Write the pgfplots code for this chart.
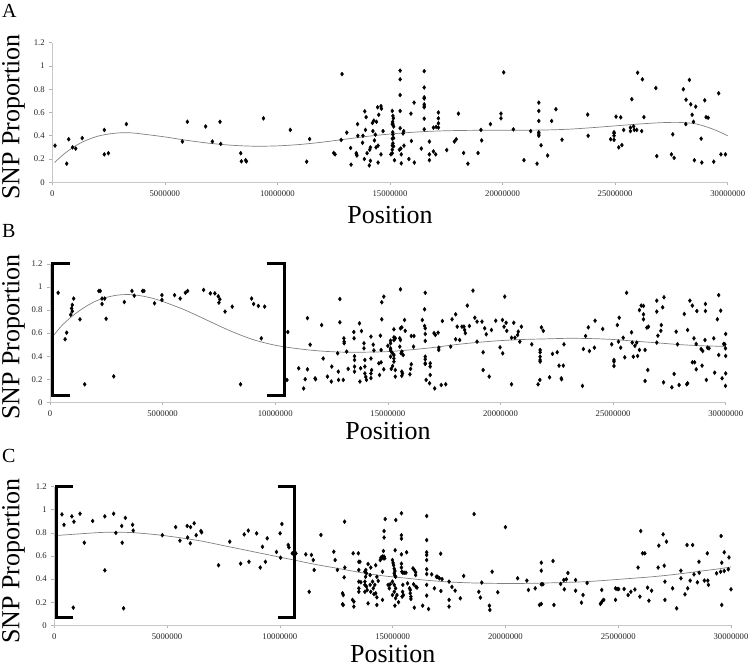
\documentclass[border=0pt]{standalone}
\usepackage{fontspec}
\setmainfont{Liberation Serif}
\usepackage{pgfplots}
\pgfplotsset{compat=1.18}
\pgfplotsset{snp/.style={
  scale only axis, anchor=south west, clip=false,
  xmin=0, xmax=30, ymin=0, ymax=1.2,
  axis x line=bottom, axis y line=left,
  axis line style={-, draw=black!22, line width=0.8pt},
  tick style={draw=black!30, line width=0.6pt},
  tick align=outside, major tick length=3pt,
  xtick={0,5,10,15,20,25,30},
  xticklabels={0,5000000,10000000,15000000,20000000,25000000,30000000},
  ytick={0,0.2,0.4,0.6,0.8,1,1.2},
  yticklabels={0,0.2,0.4,0.6,0.8,1,1.2},
  /pgf/number format/assume math mode=true,
  ticklabel style={font=\fontsize{8.7}{9}\selectfont, text=black!85},
  xticklabel style={anchor=north, yshift=-2pt},
  yticklabel style={anchor=east, xshift=-1pt},
  pts/.style={only marks, mark=diamond*, mark size=2pt, black},
  trend/.style={no marks, smooth, black!50, line width=0.7pt},
}}
\begin{document}
\begin{tikzpicture}[x=1pt,y=1pt]
\path[use as bounding box] (0,0) rectangle (750,668);
% ---------------- Panel A ----------------
\begin{axis}[snp, at={(52.3pt,485.7pt)}, width=675.4pt, height=139.6pt]
\addplot[pts] table {
0.12 0.315
0.64 0.16
0.73 0.37
0.90 0.30
1.04 0.29
1.33 0.38
2.31 0.45
2.31 0.24
2.49 0.25
3.29 0.50
5.78 0.35
6.00 0.52
6.81 0.48
7.11 0.35
7.45 0.52
7.48 0.33
8.37 0.25
8.40 0.18
8.59 0.19
8.62 0.18
9.38 0.55
10.57 0.45
11.43 0.372
11.30 0.177
12.50 0.252
12.56 0.24
12.83 0.364
12.87 0.93
13.08 0.427
13.25 0.295
13.27 0.152
13.52 0.241
13.53 0.23
13.50 0.25
13.56 0.50
13.57 0.40
13.78 0.34
13.80 0.40
13.88 0.61
13.94 0.56
13.91 0.45
13.86 0.20
13.98 0.25
14.10 0.28
14.13 0.30
14.08 0.145
14.13 0.185
14.22 0.51
14.28 0.53
14.24 0.44
14.31 0.36
14.35 0.41
14.38 0.30
14.45 0.645
14.60 0.655
14.62 0.633
14.50 0.58
14.40 0.52
14.47 0.315
14.60 0.24
14.47 0.17
14.69 0.44
15.10 0.613
15.13 0.57
15.15 0.55
15.12 0.52
15.13 0.50
15.10 0.50
15.16 0.48
15.12 0.43
15.13 0.41
15.16 0.38
15.10 0.375
15.13 0.335
15.10 0.315
15.16 0.31
15.10 0.28
15.04 0.24
15.10 0.25
15.20 0.19
15.45 0.96
15.45 0.885
15.45 0.75
15.45 0.613
15.45 0.465
15.48 0.29
15.42 0.28
15.50 0.24
15.50 0.163
15.61 0.44
15.58 0.42
15.62 0.315
15.84 0.20
15.93 0.59
16.07 0.685
15.95 0.355
16.08 0.17
16.39 0.29
16.52 0.955
16.52 0.815
16.52 0.73
16.52 0.72
16.52 0.67
16.52 0.655
16.52 0.645
16.52 0.547
16.52 0.455
16.75 0.35
16.75 0.24
16.75 0.19
16.93 0.47
16.93 0.265
17.03 0.24
17.15 0.60
17.15 0.55
17.15 0.507
17.15 0.47
17.05 0.476
17.52 0.277
17.86 0.35
17.94 0.37
18.04 0.59
18.27 0.252
18.46 0.16
18.91 0.252
19.04 0.45
19.07 0.36
19.46 0.50
19.93 0.59
19.93 0.55
20.05 0.945
20.48 0.455
20.95 0.19
21.25 0.44
21.53 0.16
21.61 0.685
21.61 0.613
21.61 0.527
21.61 0.43
21.61 0.415
21.61 0.40
21.71 0.318
22.00 0.23
22.18 0.527
22.37 0.628
22.64 0.366
23.78 0.582
23.80 0.40
24.80 0.37
24.95 0.365
24.95 0.43
24.95 0.42
24.95 0.40
25.04 0.564
25.25 0.558
25.16 0.30
25.30 0.32
25.38 0.45
25.68 0.44
25.68 0.47
25.82 0.48
25.85 0.45
25.74 0.714
25.96 0.45
26.00 0.942
26.18 0.44
26.21 0.885
26.28 0.56
26.81 0.81
26.85 0.225
27.50 0.24
27.62 0.21
27.56 0.412
28.03 0.80
28.15 0.71
28.30 0.88
28.36 0.67
28.58 0.65
28.14 0.50
28.42 0.58
28.48 0.52
28.52 0.19
28.82 0.375
28.85 0.17
28.98 0.705
29.04 0.56
29.13 0.555
29.38 0.177
29.60 0.765
29.70 0.24
29.90 0.24
};
\addplot[trend] coordinates {
(0.1,0.17)(0.5,0.24)(1,0.31)(1.5,0.36)(2,0.395)(2.5,0.415)(3,0.425)(3.5,0.425)
(4,0.415)(5,0.39)(6,0.36)(7,0.335)(8,0.318)(9,0.31)(10,0.313)(11,0.325)
(12,0.345)(13,0.37)(14,0.395)(15,0.415)(16,0.43)(17,0.44)(18,0.445)(19,0.447)
(20,0.448)(21,0.448)(22,0.45)(23,0.457)(24,0.47)(25,0.485)(26,0.5)(27,0.512)
(27.8,0.515)(28.5,0.505)(29,0.48)(29.5,0.445)(30,0.40)};
\end{axis}
% ---------------- Panel B ----------------
\begin{axis}[snp, at={(50pt,265.7pt)}, width=675.7pt, height=138.3pt]
\addplot[pts] table {
0.36 0.95
0.67 0.547
0.74 0.604
0.92 0.76
0.96 0.815
0.99 0.845
1.05 0.90
0.99 0.79
1.33 0.72
1.54 0.156
2.17 0.966
2.23 0.966
2.31 0.853
2.31 0.90
2.43 0.90
2.49 0.725
2.83 0.225
3.30 0.87
3.64 0.966
3.74 0.925
4.11 0.966
4.17 0.966
4.64 0.859
4.97 0.93
4.97 0.888
5.53 0.93
5.78 0.90
6.01 0.95
6.11 0.966
6.82 0.975
7.12 0.945
7.32 0.945
7.47 0.92
7.54 0.894
7.50 0.865
7.77 0.787
8.09 0.83
8.46 0.156
8.95 0.90
9.04 0.853
9.25 0.836
9.53 0.83
9.38 0.555
10.56 0.61
10.52 0.194
11.04 0.295
11.26 0.12
11.33 0.20
11.43 0.73
11.43 0.286
11.55 0.50
11.77 0.208
11.79 0.20
12.06 0.67
12.13 0.38
12.32 0.223
12.51 0.31
12.49 0.18
12.77 0.425
12.80 0.266
12.81 0.194
12.87 0.896
12.87 0.694
13.05 0.555
13.06 0.526
13.06 0.512
13.02 0.194
13.17 0.44
13.24 0.29
13.49 0.61
13.50 0.555
13.52 0.40
13.52 0.367
13.52 0.31
13.52 0.266
13.74 0.685
13.83 0.618
13.76 0.18
13.79 0.295
13.94 0.512
13.94 0.468
13.98 0.367
13.98 0.31
13.98 0.25
14.02 0.22
14.05 0.194
14.25 0.57
14.25 0.38
14.28 0.28
14.25 0.25
14.25 0.21
14.35 0.50
14.38 0.45
14.67 0.578
14.73 0.72
14.73 0.868
14.82 0.917
14.70 0.454
14.60 0.338
14.70 0.347
14.82 0.286
14.63 0.237
15.00 0.49
15.12 0.535
15.12 0.512
15.12 0.468
15.12 0.454
15.15 0.44
15.21 0.425
15.12 0.396
15.27 0.41
15.27 0.38
15.27 0.353
15.21 0.315
15.15 0.29
15.33 0.223
15.33 0.28
15.27 0.633
15.27 0.564
15.33 0.555
15.27 0.54
15.53 0.555
15.56 0.54
15.53 0.483
15.56 0.98
15.56 0.642
15.62 0.65
15.59 0.425
15.62 0.44
15.68 0.41
15.62 0.266
15.65 0.25
15.62 0.23
15.74 0.714
15.77 0.62
16.04 0.575
16.16 0.575
16.01 0.29
16.04 0.33
15.98 0.243
16.14 0.483
16.63 0.807
16.66 0.95
16.63 0.662
16.66 0.642
16.66 0.593
16.66 0.532
16.66 0.396
16.66 0.373
16.66 0.338
16.88 0.338
16.66 0.333
16.88 0.31
16.53 0.714
16.70 0.194
16.85 0.165
16.88 0.237
17.08 0.12
17.05 0.60
17.11 0.584
17.23 0.604
17.26 0.474
17.26 0.454
17.37 0.15
17.57 0.156
17.42 0.705
17.79 0.483
17.85 0.72
18.01 0.763
18.08 0.656
18.01 0.547
18.19 0.54
18.29 0.656
18.38 0.656
18.41 0.627
18.44 0.60
18.53 0.839
18.62 0.662
18.78 0.969
18.86 0.734
18.96 0.70
18.96 0.526
19.18 0.70
19.23 0.434
19.30 0.642
19.37 0.59
19.23 0.28
19.50 0.223
19.60 0.627
19.79 0.708
19.98 0.477
20.09 0.714
20.10 0.425
20.16 0.656
20.19 0.917
20.25 0.69
20.28 0.62
20.49 0.56
20.49 0.156
20.59 0.69
20.64 0.56
20.76 0.584
20.79 0.613
20.86 0.526
20.93 0.656
21.39 0.503
21.67 0.156
21.75 0.194
21.76 0.454
21.76 0.434
21.76 0.396
21.76 0.367
21.76 0.353
21.82 0.65
21.90 0.62
22.18 0.217
22.31 0.42
22.52 0.434
22.60 0.318
22.79 0.318
22.70 0.208
22.71 0.20
22.82 0.503
23.64 0.142
23.68 0.462
23.78 0.575
23.90 0.65
23.95 0.445
24.20 0.708
24.17 0.474
24.54 0.636
24.94 0.503
25.04 0.367
25.04 0.353
25.04 0.315
25.19 0.67
25.27 0.734
25.24 0.526
25.34 0.474
25.45 0.56
25.52 0.39
25.60 0.95
25.82 0.607
25.85 0.518
25.90 0.396
25.97 0.49
26.05 0.518
26.09 0.402
26.17 0.80
26.25 0.839
26.35 0.836
26.35 0.763
26.35 0.72
26.17 0.454
26.42 0.454
26.50 0.648
26.57 0.656
26.42 0.185
26.54 0.28
26.94 0.882
26.94 0.787
26.99 0.578
27.12 0.62
27.14 0.67
26.94 0.518
27.24 0.173
27.26 0.911
27.20 0.824
27.61 0.13
27.71 0.246
27.80 0.613
27.86 0.503
27.93 0.15
28.27 0.156
28.31 0.165
28.16 0.766
28.31 0.627
28.41 0.882
28.52 0.839
28.59 0.555
28.52 0.347
28.62 0.347
28.69 0.506
28.69 0.286
28.72 0.792
28.91 0.462
28.98 0.445
28.95 0.318
29.10 0.792
29.10 0.853
29.08 0.54
29.14 0.194
29.19 0.474
29.26 0.468
29.47 0.555
29.51 0.257
29.63 0.72
29.69 0.93
29.78 0.795
29.69 0.41
29.84 0.208
29.91 0.506
29.96 0.503
30.00 0.593
29.99 0.468
29.99 0.142
30.00 0.25
30.00 0.402
};
\addplot[trend] coordinates {
(0.1,0.565)(0.5,0.66)(1,0.75)(1.5,0.82)(2,0.875)(2.5,0.91)(3,0.93)(3.5,0.935)
(4,0.925)(4.5,0.905)(5,0.875)(6,0.8)(7,0.71)(8,0.62)(9,0.545)(10,0.495)
(11,0.465)(12,0.445)(13,0.435)(14,0.435)(15,0.44)(16,0.455)(17,0.475)(18,0.5)
(19,0.52)(20,0.535)(21,0.545)(22,0.55)(23,0.555)(24,0.553)(25,0.545)(26,0.53)
(27,0.515)(28,0.5)(29,0.49)(30,0.485)};
\draw[black, line width=3pt, line join=miter, line cap=butt]
  (axis cs:0.89,0.063) -- (axis cs:0.1,0.063) -- (axis cs:0.1,1.2) -- (axis cs:0.89,1.2);
\draw[black, line width=3pt, line join=miter, line cap=butt]
  (axis cs:9.62,0.063) -- (axis cs:10.39,0.063) -- (axis cs:10.39,1.2) -- (axis cs:9.62,1.2);
\end{axis}
% ---------------- Panel C ----------------
\begin{axis}[snp, at={(54.3pt,42.7pt)}, width=676.7pt, height=138.6pt]
\addplot[pts] table {
0.34 0.96
0.43 0.87
0.78 0.943
0.87 0.897
0.84 0.153
1.14 0.966
1.33 0.715
1.70 0.903
2.24 0.943
2.24 0.476
2.63 0.966
2.73 0.80
2.99 0.86
3.01 0.715
3.07 0.147
3.15 0.93
3.47 0.87
3.50 0.82
4.79 0.78
5.38 0.85
5.57 0.733
5.89 0.86
5.91 0.76
6.03 0.71
6.04 0.85
6.20 0.883
6.29 0.78
6.50 0.816
6.53 0.805
7.28 0.52
7.78 0.724
8.26 0.534
8.42 0.787
8.60 0.82
8.63 0.55
8.97 0.796
9.13 0.50
9.23 0.68
9.36 0.55
9.44 0.753
9.85 0.635
10.01 0.796
10.03 0.585
10.09 0.877
10.37 0.695
10.40 0.675
10.55 0.623
10.62 0.623
10.71 0.623
11.15 0.614
11.30 0.29
11.40 0.609
11.48 0.565
11.52 0.479
11.82 0.782
12.39 0.637
12.45 0.565
12.55 0.479
12.78 0.277
12.81 0.262
12.78 0.182
12.81 0.176
12.87 0.897
12.88 0.50
12.85 0.415
13.25 0.623
13.48 0.623
13.22 0.22
13.28 0.205
13.28 0.162
13.50 0.479
13.50 0.55
13.55 0.55
13.50 0.378
13.59 0.373
13.50 0.32
13.50 0.29
13.77 0.464
13.81 0.479
13.84 0.45
13.80 0.42
13.77 0.378
13.77 0.35
13.84 0.335
13.77 0.29
13.87 0.305
13.91 0.53
14.03 0.50
13.91 0.19
14.00 0.435
14.00 0.35
14.03 0.29
14.14 0.32
14.11 0.378
14.17 0.27
14.25 0.52
14.30 0.42
14.36 0.384
14.21 0.35
14.25 0.277
14.30 0.242
14.45 0.565
14.48 0.585
14.59 0.643
14.55 0.595
14.51 0.585
14.58 0.58
14.62 0.595
14.65 0.58
14.62 0.816
14.62 0.76
14.55 0.464
14.55 0.22
14.67 0.92
14.80 0.35
14.89 0.355
14.85 0.32
14.30 0.176
14.99 0.565
15.02 0.54
15.04 0.52
15.07 0.49
15.10 0.47
15.07 0.45
15.10 0.43
15.13 0.42
15.11 0.65
15.14 0.911
14.99 0.378
15.07 0.35
15.13 0.32
15.07 0.29
14.99 0.262
15.19 0.262
15.13 0.234
15.10 0.17
15.26 0.2
15.39 0.97
15.39 0.78
15.39 0.75
15.39 0.614
15.39 0.533
15.39 0.50
15.41 0.464
15.45 0.455
15.51 0.455
15.59 0.455
15.45 0.35
15.44 0.29
15.42 0.248
15.48 0.262
15.62 0.632
15.66 0.363
15.75 0.32
15.78 0.277
15.81 0.248
15.81 0.228
15.78 0.306
15.90 0.493
15.96 0.479
16.02 0.459
16.02 0.435
15.93 0.355
16.03 0.335
16.08 0.326
15.96 0.153
16.33 0.17
16.51 0.946
16.51 0.738
16.51 0.632
16.51 0.609
16.51 0.565
16.51 0.485
16.51 0.444
16.51 0.35
16.51 0.257
16.59 0.141
16.73 0.441
16.85 0.32
16.94 0.42
16.99 0.42
17.07 0.407
17.13 0.62
17.14 0.297
17.19 0.40
17.50 0.378
17.50 0.22
17.50 0.162
17.63 0.332
17.77 0.30
18.00 0.234
18.15 0.427
18.61 0.963
18.82 0.29
18.89 0.24
18.95 0.37
19.29 0.17
19.31 0.133
19.41 0.464
19.66 0.286
20.00 0.85
20.54 0.407
20.95 0.387
21.02 0.306
21.32 0.32
21.51 0.176
21.59 0.185
21.59 0.542
21.59 0.473
21.59 0.355
21.66 0.355
22.11 0.557
22.15 0.176
22.45 0.358
22.59 0.392
22.70 0.398
22.61 0.312
22.77 0.453
23.11 0.392
23.11 0.30
23.37 0.196
23.44 0.262
23.62 0.366
24.21 0.185
24.25 0.196
24.31 0.213
24.36 0.22
24.27 0.306
24.88 0.22
24.88 0.32
24.95 0.314
25.02 0.314
25.26 0.314
25.44 0.262
25.56 0.29
25.74 0.31
25.88 0.5
25.96 0.248
26.00 0.816
26.08 0.623
26.18 0.623
26.30 0.326
26.36 0.213
26.48 0.30
26.77 0.5
26.80 0.69
26.99 0.787
27.04 0.516
27.07 0.378
27.07 0.22
27.14 0.724
27.41 0.32
27.59 0.147
27.78 0.473
27.78 0.407
27.96 0.268
28.05 0.695
28.08 0.32
28.19 0.387
28.30 0.695
28.36 0.441
28.51 0.372
28.58 0.55
28.59 0.455
28.82 0.387
28.97 0.387
29.00 0.35
28.95 0.623
29.36 0.45
29.56 0.773
29.59 0.176
29.59 0.542
29.54 0.464
29.70 0.47
29.88 0.485
29.70 0.632
29.91 0.588
30.00 0.312
};
\addplot[trend] coordinates {
(0,0.776)(1,0.79)(2,0.803)(2.7,0.806)(3.5,0.802)(4.5,0.785)(5.5,0.76)(6.5,0.73)
(7.5,0.69)(8.5,0.65)(9.5,0.61)(10.5,0.57)(11.5,0.53)(12.5,0.495)(13.5,0.46)
(14.5,0.43)(15.5,0.41)(16.5,0.39)(17.5,0.375)(18.5,0.367)(19.5,0.363)(20.5,0.362)
(21.5,0.365)(22.5,0.37)(23.5,0.377)(24.5,0.39)(25.5,0.405)(26.5,0.42)(27.5,0.44)
(28.5,0.465)(29.5,0.49)(30,0.505)};
\draw[black, line width=3pt, line join=miter, line cap=butt]
  (axis cs:0.82,0.07) -- (axis cs:0.11,0.07) -- (axis cs:0.11,1.2) -- (axis cs:0.82,1.2);
\draw[black, line width=3pt, line join=miter, line cap=butt]
  (axis cs:9.93,0.07) -- (axis cs:10.67,0.07) -- (axis cs:10.67,1.2) -- (axis cs:9.93,1.2);
\end{axis}
% ---------------- Labels ----------------
\node[anchor=base west, inner sep=0pt, font=\fontsize{20}{20}\selectfont] at (2,650) {A};
\node[anchor=base west, inner sep=0pt, font=\fontsize{20}{20}\selectfont] at (2,430) {B};
\node[anchor=base west, inner sep=0pt, font=\fontsize{20}{20}\selectfont] at (2,205) {C};
\node[rotate=90, anchor=base, inner sep=0pt, font=\fontsize{26}{26}\selectfont] at (19.5,551) {SNP Proportion};
\node[rotate=90, anchor=base, inner sep=0pt, font=\fontsize{26}{26}\selectfont] at (19.5,331) {SNP Proportion};
\node[rotate=90, anchor=base, inner sep=0pt, font=\fontsize{26}{26}\selectfont] at (19.5,107) {SNP Proportion};
\node[anchor=base, inner sep=0pt, font=\fontsize{26}{26}\selectfont] at (390,444.7) {Position};
\node[anchor=base, inner sep=0pt, font=\fontsize{26}{26}\selectfont] at (388,228) {Position};
\node[anchor=base, inner sep=0pt, font=\fontsize{26}{26}\selectfont] at (392.7,5) {Position};
\end{tikzpicture}
\end{document}
